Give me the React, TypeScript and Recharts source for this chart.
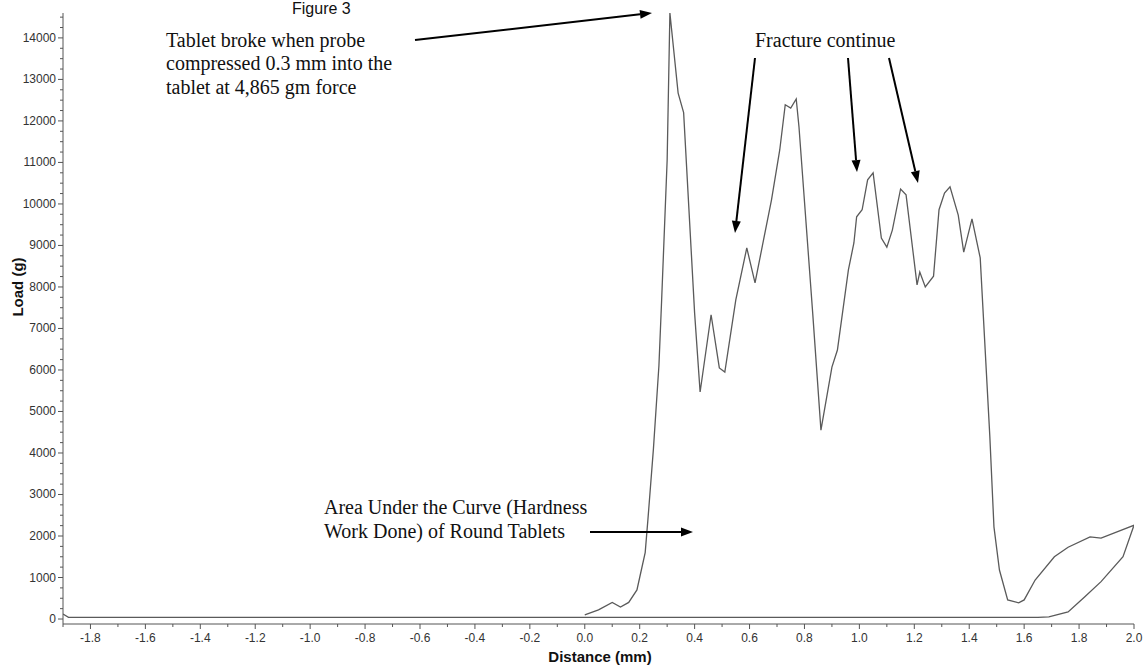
import { LineChart, Line, XAxis, YAxis } from 'recharts'

// Texture analyser trace: probe distance (mm) vs load (g), in recorded order
const distance = [
  0.0, 0.05, 0.1, 0.13, 0.16, 0.19, 0.2, 0.22, 0.23, 0.25, 0.27, 0.28, 0.3, 0.31,
  0.34, 0.36, 0.4, 0.42, 0.46, 0.49, 0.51, 0.55, 0.59, 0.62, 0.68, 0.71, 0.73, 0.75,
  0.77, 0.78, 0.83, 0.86, 0.9, 0.92, 0.96, 0.98, 0.99, 1.01, 1.03, 1.05, 1.08, 1.1,
  1.12, 1.15, 1.17, 1.21, 1.22, 1.24, 1.27, 1.29, 1.31, 1.33, 1.36, 1.38, 1.41, 1.44,
  1.475, 1.49, 1.51, 1.54, 1.58, 1.6, 1.64, 1.71, 1.76, 1.84, 1.88, 2.0,
  // probe withdrawing
  1.96, 1.88, 1.82, 1.76, 1.69, 1.65, 1.0, 0.0, -1.0, -1.88, -1.9,
]
const load = [
  100, 220, 400, 290, 400, 700, 1000, 1600, 2400, 4100, 6100, 7700, 11060, 14600,
  12670, 12200, 7370, 5470, 7330, 6050, 5950, 7690, 8940, 8100, 10100, 11300, 12390, 12310,
  12530, 11860, 7370, 4550, 6070, 6480, 8410, 9060, 9690, 9860, 10580, 10750, 9180, 8960,
  9370, 10360, 10220, 8050, 8360, 8000, 8260, 9860, 10260, 10410, 9730, 8840, 9640, 8700,
  4400, 2220, 1180, 460, 390, 460, 940, 1500, 1730, 1980, 1950, 2260,
  1500, 900, 530, 170, 50, 40, 40, 40, 40, 40, 120,
]

const xMajorTicks = [-1.8, -1.6, -1.4, -1.2, -1.0, -0.8, -0.6, -0.4, -0.2, 0.0, 0.2, 0.4, 0.6, 0.8, 1.0, 1.2, 1.4, 1.6, 1.8, 2.0]
const xMinorTicks = [-1.9, -1.7, -1.5, -1.3, -1.1, -0.9, -0.7, -0.5, -0.3, -0.1, 0.1, 0.3, 0.5, 0.7, 0.9, 1.1, 1.3, 1.5, 1.7, 1.9]
const yMajorTicks = [0, 1000, 2000, 3000, 4000, 5000, 6000, 7000, 8000, 9000, 10000, 11000, 12000, 13000, 14000]
const yMinorTicks = [250, 500, 750, 1250, 1500, 1750, 2250, 2500, 2750, 3250, 3500, 3750, 4250, 4500, 4750,
  5250, 5500, 5750, 6250, 6500, 6750, 7250, 7500, 7750, 8250, 8500, 8750, 9250, 9500, 9750,
  10250, 10500, 10750, 11250, 11500, 11750, 12250, 12500, 12750, 13250, 13500, 13750, 14250, 14500]

const data = distance.map((d, i) => ({ x: d, load: load[i] }))

const axisColor = '#555'
const tickFont = '"Liberation Sans", Arial, sans-serif'
const serif = '"Liberation Serif", "Times New Roman", serif'

function XTick({ x, y, payload }: any) {
  const major = xMajorTicks.some(t => Math.abs(t - payload.value) < 1e-6)
  return (
    <g>
      <line x1={x} x2={x} y1={y} y2={y + (major ? 5 : 3)} stroke={axisColor} strokeWidth={1} />
      {major && (
        <text x={x} y={y + 18} textAnchor="middle" fontSize={12} fill="#333" fontFamily={tickFont}>
          {payload.value.toFixed(1)}
        </text>
      )}
    </g>
  )
}

function YTick({ x, y, payload }: any) {
  const major = payload.value % 1000 === 0
  return (
    <g>
      <line x1={x} x2={x - (major ? 5 : 3)} y1={y} y2={y} stroke={axisColor} strokeWidth={1} />
      {major && (
        <text x={x - 7} y={y + 4} textAnchor="end" fontSize={12} fill="#333" fontFamily={tickFont}>
          {payload.value}
        </text>
      )}
    </g>
  )
}

function Arrow({ x1, y1, x2, y2 }: { x1: number; y1: number; x2: number; y2: number }) {
  const ang = Math.atan2(y2 - y1, x2 - x1)
  const len = 12
  const w = 4.5
  const bx = x2 - len * Math.cos(ang)
  const by = y2 - len * Math.sin(ang)
  const px = -Math.sin(ang) * w
  const py = Math.cos(ang) * w
  return (
    <g>
      <line x1={x1} y1={y1} x2={bx} y2={by} stroke="#000" strokeWidth={2} />
      <polygon points={`${x2},${y2} ${bx + px},${by + py} ${bx - px},${by - py}`} fill="#000" />
    </g>
  )
}

export default function App() {
  return (
    <div style={{ position: 'absolute', left: 0, top: 0, width: 1146, height: 669, background: '#fff', overflow: 'hidden' }}>
      <LineChart width={1146} height={669} data={data} margin={{ top: 13, right: 12, left: 0, bottom: 0 }}>
        <XAxis
          type="number"
          dataKey="x"
          domain={[-1.9, 2.0]}
          ticks={[...xMinorTicks, ...xMajorTicks].sort((a, b) => a - b)}
          interval={0}
          allowDataOverflow
          height={45}
          tickSize={0}
          tickMargin={0}
          tickLine={false}
          tick={<XTick />}
          stroke={axisColor}
        />
        <YAxis
          type="number"
          domain={[-120, 14600]}
          ticks={[...yMajorTicks, ...yMinorTicks].sort((a, b) => a - b)}
          interval={0}
          allowDataOverflow
          width={63}
          tickSize={0}
          tickMargin={0}
          tickLine={false}
          tick={<YTick />}
          stroke={axisColor}
        />
        <Line
          type="linear"
          dataKey="load"
          stroke="#5a5a5a"
          strokeWidth={1.3}
          dot={false}
          isAnimationActive={false}
        />
      </LineChart>

      {/* annotations */}
      <svg width={1146} height={669} style={{ position: 'absolute', left: 0, top: 0, pointerEvents: 'none' }}>
        <text x={292} y={14} fontSize={16} fontFamily={tickFont} fill="#111">Figure 3</text>

        <text fontFamily={serif} fontSize={20} fill="#111">
          <tspan x={166} y={47}>Tablet broke when probe</tspan>
          <tspan x={166} y={70}>compressed 0.3 mm into the</tspan>
          <tspan x={166} y={94}>tablet at 4,865 gm force</tspan>
        </text>
        <Arrow x1={415} y1={40} x2={652} y2={13} />

        <text x={755} y={47} fontFamily={serif} fontSize={20} fill="#111">Fracture continue</text>
        <Arrow x1={755} y1={58} x2={735} y2={233} />
        <Arrow x1={848} y1={58} x2={857} y2={172} />
        <Arrow x1={889} y1={58} x2={918} y2={183} />

        <text fontFamily={serif} fontSize={20} fill="#111">
          <tspan x={324} y={514}>Area Under the Curve (Hardness</tspan>
          <tspan x={324} y={538}>Work Done) of Round Tablets</tspan>
        </text>
        <Arrow x1={590} y1={532} x2={693} y2={532} />

        <text x={600} y={662} textAnchor="middle" fontSize={15} fontWeight="bold" fontFamily={tickFont} fill="#111">Distance (mm)</text>
        <text transform="translate(23,287) rotate(-90)" textAnchor="middle" fontSize={15} fontWeight="bold" fontFamily={tickFont} fill="#111">Load (g)</text>
      </svg>
    </div>
  )
}
